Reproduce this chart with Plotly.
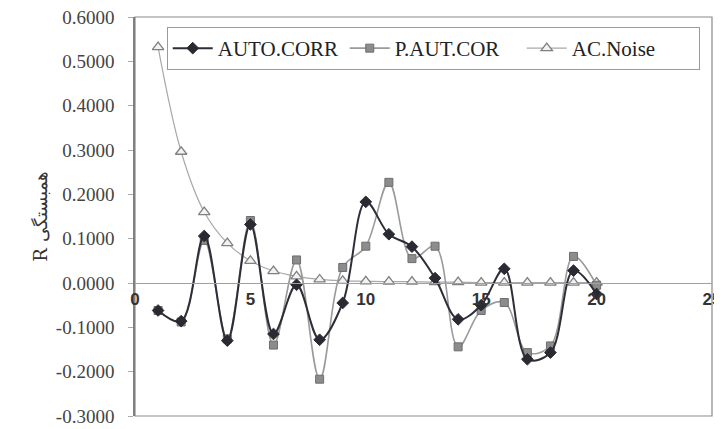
import plotly.graph_objects as go

lags = list(range(1, 21))
auto_corr = [-0.062, -0.086, 0.106, -0.130, 0.132, -0.115, -0.004, -0.128, -0.045, 0.183,
             0.110, 0.082, 0.011, -0.082, -0.050, 0.032, -0.172, -0.157, 0.028, -0.025]
p_aut_cor = [-0.062, -0.088, 0.096, -0.126, 0.141, -0.140, 0.052, -0.217, 0.035, 0.083,
             0.227, 0.055, 0.083, -0.144, -0.062, -0.044, -0.157, -0.142, 0.060, -0.005]
ac_noise = [0.532, 0.296, 0.160, 0.090, 0.050, 0.027, 0.015, 0.008, 0.005, 0.004,
            0.003, 0.003, 0.002, 0.002, 0.001, 0.001, 0.001, 0.001, 0.001, 0.001]

x_ticks = [0, 5, 10, 15, 20, 25]
y_ticks = [-0.3, -0.2, -0.1, 0.0, 0.1, 0.2, 0.3, 0.4, 0.5, 0.6]
y_range = [-0.3, 0.6]

fig = go.Figure()

fig.add_trace(go.Scatter(
    x=lags, y=ac_noise, name="AC.Noise", mode="lines+markers",
    line=dict(color="#a8a8a8", width=1.2, shape="spline"),
    marker=dict(symbol="triangle-up", size=10, color="#f2f2f2",
                line=dict(color="#808080", width=1.3)),
    legendrank=3))

fig.add_trace(go.Scatter(
    x=lags, y=p_aut_cor, name="P.AUT.COR", mode="lines+markers",
    line=dict(color="#9a9a9a", width=1.6, shape="spline"),
    marker=dict(symbol="square", size=8, color="#8c8c8c",
                line=dict(color="#6e6e6e", width=1)),
    legendrank=2))

fig.add_trace(go.Scatter(
    x=lags, y=auto_corr, name="AUTO.CORR", mode="lines+markers",
    line=dict(color="#2e2e38", width=2, shape="spline"),
    marker=dict(symbol="diamond", size=9, color="#2a2a33",
                line=dict(color="#2a2a33", width=1)),
    legendrank=1))

zero_pos = (0 - y_range[0]) / (y_range[1] - y_range[0])

fig.update_layout(
    width=714, height=421,
    margin=dict(l=127, r=10, t=9, b=13),
    paper_bgcolor="white", plot_bgcolor="white",
    showlegend=True,
    legend=dict(orientation="h", x=0.055, y=0.975, xanchor="left", yanchor="top",
                bgcolor="white", bordercolor="#9a9a9a", borderwidth=1,
                font=dict(family="Liberation Serif", size=21, color="#222"),
                entrywidth=122, entrywidthmode="pixels",
                itemwidth=40, tracegroupgap=0),
    xaxis=dict(range=[0, 25], tickvals=x_ticks, ticktext=[str(v) for v in x_ticks],
               anchor="free", position=zero_pos, showline=True, linecolor="#a0a0a0",
               linewidth=1, ticks="", showgrid=False, zeroline=False, automargin=False,
               ticklabeloverflow="allow",
               tickfont=dict(family="Liberation Sans", size=17, color="#333", weight="bold"),
               ticklabelstandoff=1),
    yaxis=dict(range=y_range, tickvals=y_ticks,
               ticktext=[f"{v:.4f}" for v in y_ticks],
               showline=True, linecolor="#808080", linewidth=1.5,
               ticks="outside", ticklen=5, tickcolor="#aaa",
               showgrid=False, zeroline=False, automargin=False,
               ticklabeloverflow="allow",
               ticklabelstandoff=10,
               tickfont=dict(family="Liberation Serif", size=19, color="#444"),
               title=dict(text="\u00a0\u00a0\u00a0R همبستگی", standoff=4,
                          font=dict(family="DejaVu Serif, Noto Sans", size=18, color="#333"))),
    shapes=[dict(type="rect", xref="paper", yref="paper", x0=0, y0=0, x1=1, y1=1,
                 line=dict(color="#8a8a8a", width=1.2), layer="below")],
)

fig.write_html("out.html")
